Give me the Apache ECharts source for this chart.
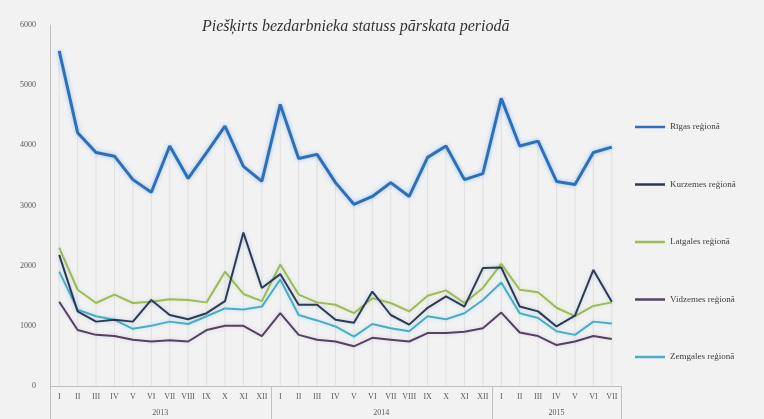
<!DOCTYPE html>
<html>
<head>
<meta charset="utf-8">
<script src="https://cdn.jsdelivr.net/npm/echarts@6/dist/echarts.min.js"></script>
<style>
  html, body { margin: 0; padding: 0; background: #f2f2f2; }
  #chart { width: 764px; height: 419px; }
</style>
</head>
<body>
<div id="chart"></div>
<script>
// mēneši (31 periods: 2013 I..XII, 2014 I..XII, 2015 I..VII)
var months2013 = ['I','II','III','IV','V','VI','VII','VIII','IX','X','XI','XII'];
var months2014 = ['I','II','III','IV','V','VI','VII','VIII','IX','X','XI','XII'];
var months2015 = ['I','II','III','IV','V','VI','VII'];
var years = ['2013', '2014', '2015'];
var months = months2013.concat(months2014, months2015);
var yTicks = [0, 1000, 2000, 3000, 4000, 5000, 6000];

var riga = [5570, 4210, 3880, 3820, 3430, 3220, 3990, 3450, 3880, 4320, 3650, 3400,
            4680, 3780, 3850, 3380, 3020, 3150, 3380, 3150, 3800, 3990, 3430, 3530,
            4780, 3990, 4070, 3400, 3350, 3880, 3970];
var kurzeme = [2180, 1240, 1070, 1100, 1070, 1430, 1180, 1110, 1210, 1410, 2550, 1630,
               1860, 1350, 1350, 1100, 1050, 1570, 1180, 1020, 1300, 1490, 1320, 1960,
               1970, 1320, 1240, 990, 1170, 1930, 1400];
var latgale = [2300, 1600, 1380, 1520, 1380, 1400, 1440, 1430, 1390, 1900, 1530, 1410,
               2020, 1520, 1390, 1350, 1210, 1460, 1380, 1240, 1500, 1590, 1380, 1630,
               2030, 1600, 1560, 1300, 1160, 1330, 1390];
var vidzeme = [1400, 930, 850, 830, 770, 740, 760, 740, 930, 1000, 1000, 830,
               1210, 850, 770, 740, 660, 800, 770, 740, 880, 880, 900, 960,
               1220, 890, 830, 680, 740, 830, 780];
var zemgale = [1900, 1270, 1160, 1100, 950, 1000, 1070, 1030, 1160, 1290, 1270, 1320,
               1770, 1180, 1090, 990, 820, 1030, 960, 910, 1160, 1110, 1210, 1430,
               1720, 1210, 1130, 910, 850, 1070, 1040];

var seriesNames = ['Rīgas reģionā', 'Kurzemes reģionā', 'Latgales reģionā', 'Vidzemes reģionā', 'Zemgales reģionā'];
var seriesData = [riga, kurzeme, latgale, vidzeme, zemgale];
var colors = ['#2f6fb8', '#2c3b55', '#9bbb59', '#54425f', '#4bacc6'];
var widths = [3, 2, 2, 2, 2];
var glows = ['rgba(110,175,245,0.7)', 'rgba(120,150,200,0.4)', 'rgba(200,220,150,0.5)',
             'rgba(190,160,210,0.4)', 'rgba(150,220,240,0.6)'];

// year label sits in the middle of its months
var yearStart = [0, months2013.length, months2013.length + months2014.length];
var yearLen = [months2013.length, months2014.length, months2015.length];
var yearLabels = months.map(function () { return ''; });
yearStart.forEach(function (s, i) {
  var mid = s + (yearLen[i] - 1) / 2;
  var idx = Math.floor(mid);
  yearLabels[idx] = (mid !== idx ? '{h|' + years[i] + '}' : years[i]);
});

var font = 'Liberation Serif';
var chart = echarts.init(document.getElementById('chart'));

var series = [{
  // vertical drop lines under the top series
  type: 'bar',
  data: riga,
  barWidth: 1,
  silent: true,
  z: 1,
  itemStyle: { color: '#e0e0e0' }
}];
seriesNames.forEach(function (name, i) {
  series.push({
    name: name,
    type: 'line',
    data: seriesData[i],
    symbol: 'none',
    z: 10 - i,
    lineStyle: {
      color: colors[i],
      width: widths[i],
      shadowColor: glows[i],
      shadowBlur: 4
    },
    itemStyle: { color: colors[i] }
  });
});

chart.setOption({
  backgroundColor: '#f2f2f2',
  animation: false,
  title: {
    text: 'Piešķirts bezdarbnieka statuss pārskata periodā',
    left: 197,
    top: 14,
    textStyle: { fontFamily: font, fontStyle: 'italic', fontWeight: 'normal', fontSize: 16, color: '#333' }
  },
  legend: {
    orient: 'vertical',
    left: 630,
    top: 116,
    icon: 'rect',
    itemWidth: 30,
    itemHeight: 2.5,
    itemGap: 45.5,
    data: seriesNames,
    textStyle: { fontFamily: font, fontSize: 9, lineHeight: 12, color: '#404040' }
  },
  grid: { left: 50, right: 143, top: 25, bottom: 33 },
  xAxis: [{
    type: 'category',
    data: months,
    boundaryGap: true,
    axisLine: { lineStyle: { color: '#bfbfbf' } },
    axisTick: { show: false },
    axisLabel: { interval: 0, margin: 7, fontFamily: font, fontSize: 8, color: '#595959' }
  }, {
    type: 'category',
    data: yearLabels,
    position: 'bottom',
    boundaryGap: true,
    axisLine: { show: false },
    axisTick: {
      show: true,
      length: 33,
      interval: function (idx) { return yearStart.indexOf(idx) >= 0; },
      lineStyle: { color: '#bfbfbf' }
    },
    axisLabel: {
      interval: 0,
      margin: 23,
      fontFamily: font,
      fontSize: 8,
      color: '#595959',
      rich: { h: { padding: [0, 0, 0, 18], fontFamily: font, fontSize: 8, color: '#595959' } }
    }
  }],
  yAxis: {
    type: 'value',
    min: yTicks[0],
    max: yTicks[yTicks.length - 1],
    interval: yTicks[1] - yTicks[0],
    axisLine: { show: true, lineStyle: { color: '#bfbfbf' } },
    axisTick: { show: false },
    splitLine: { show: false },
    axisLabel: {
      margin: 14, fontFamily: font, fontSize: 8, color: '#595959',
      formatter: function (v) { return String(v); }
    }
  },
  series: series
});
</script>
</body>
</html>
